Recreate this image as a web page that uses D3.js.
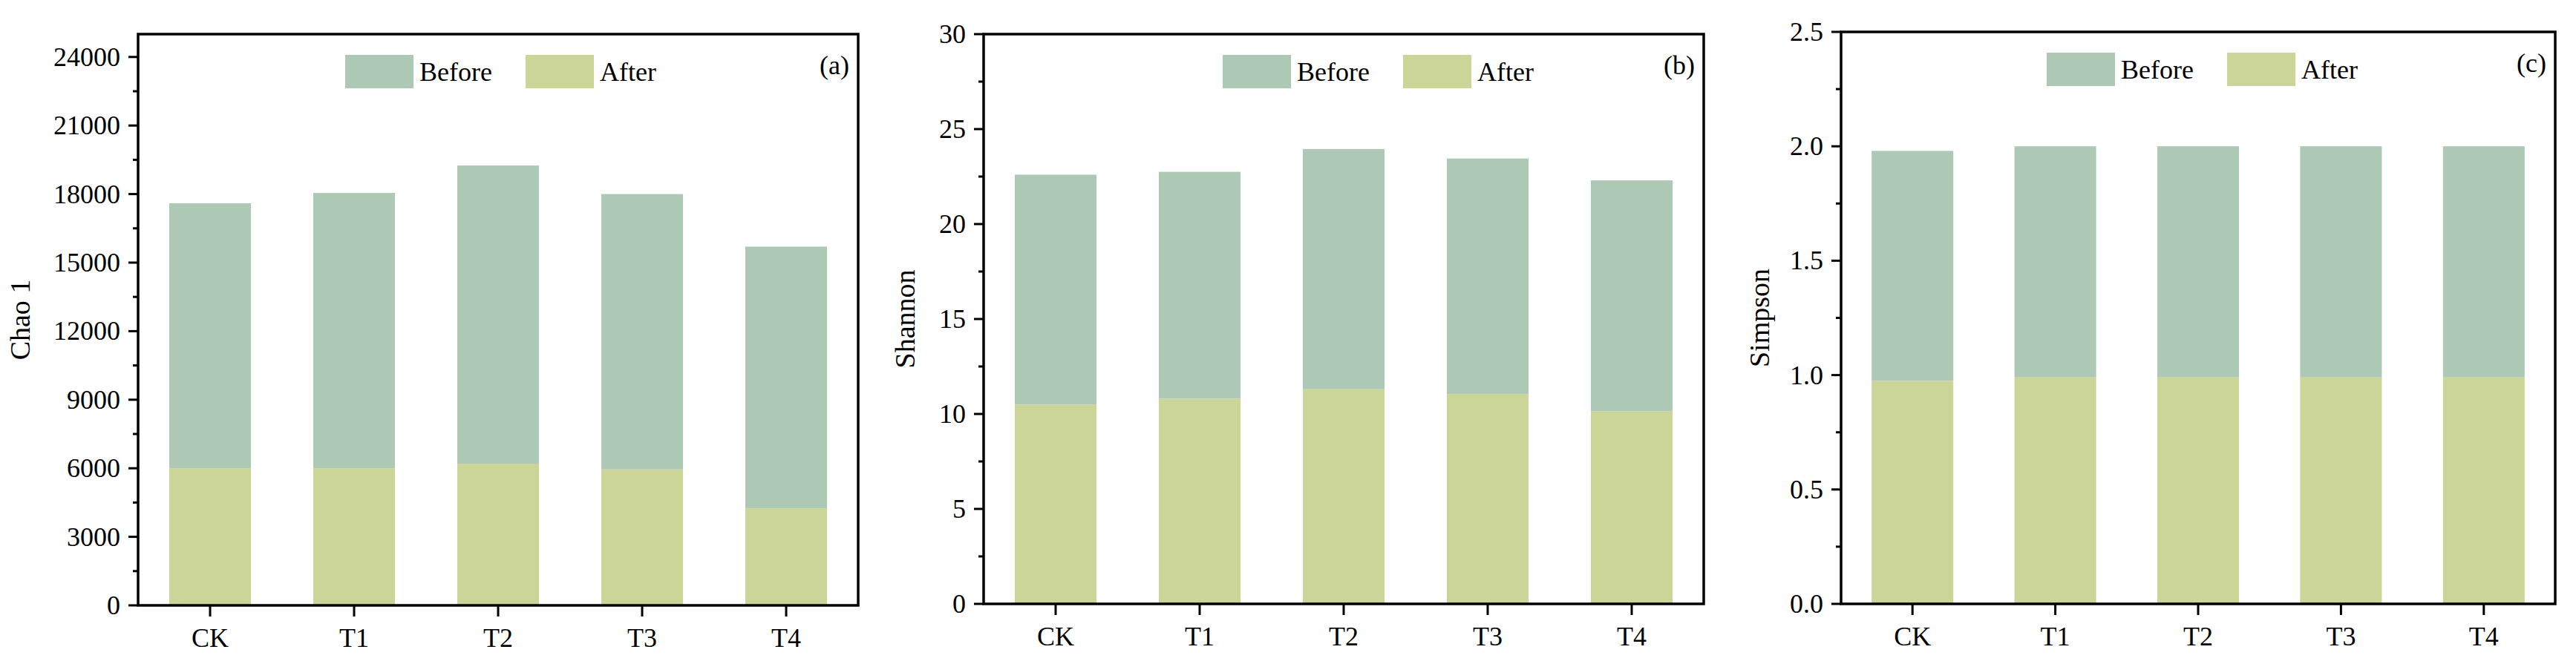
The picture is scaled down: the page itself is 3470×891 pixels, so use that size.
<!DOCTYPE html>
<html lang="en">
<head>
<meta charset="utf-8" />
<title>alpha diversity</title>
<style>
  body { margin: 0; background: #fff; }
  text { font-family: "Liberation Serif", "DejaVu Serif", serif; fill: #000; }
</style>
</head>
<body>
<script src="https://cdn.jsdelivr.net/npm/d3@7"></script>
<div id="chart"></div>
<script>
    // groups on the x axis
    const groups = ["CK", "T1", "T2", "T3", "T4"];

    // chao 1
    const chaoAfter  = [6000, 6000, 6200, 5950, 4250];
    const chaoBefore = [11600, 12050, 13050, 12050, 11450];
    const chaoTicks  = [0, 3000, 6000, 9000, 12000, 15000, 18000, 21000, 24000];

    // shannon
    const shannonAfter  = [10.5, 10.8, 11.3, 11.05, 10.15];
    const shannonBefore = [12.1, 11.95, 12.65, 12.4, 12.15];
    const shannonTicks  = [0, 5, 10, 15, 20, 25, 30];

    // simpson
    const simpsonAfter  = [0.975, 0.99, 0.99, 0.99, 0.99];
    const simpsonBefore = [1.005, 1.01, 1.01, 1.01, 1.01];
    const simpsonTicks  = [0, 0.5, 1.0, 1.5, 2.0, 2.5];

    const colBefore = "#aec8b6", colAfter = "#cbd597";

    const svg = d3.select("#chart").append("svg")
        .attr("width", 3470).attr("height", 891);

    const panels = [
        {left: 186, right: 1156, top: 46, bottom: 816, max: 25000, ticks: chaoTicks, fmt: d => d,
         after: chaoAfter, before: chaoBefore, label: "Chao 1", tag: "(a)", labelX: 40, lx: 279},
        {left: 1325, right: 2295, top: 46, bottom: 814, max: 30, ticks: shannonTicks, fmt: d => d,
         after: shannonAfter, before: shannonBefore, label: "Shannon", tag: "(b)", labelX: 1232, lx: 322},
        {left: 2480, right: 3442, top: 43, bottom: 814, max: 2.5, ticks: simpsonTicks, fmt: d3.format(".1f"),
         after: simpsonAfter, before: simpsonBefore, label: "Simpson", tag: "(c)", labelX: 2383, lx: 277}
    ];

    panels.forEach(p => {
        const g = svg.append("g");
        const left = p.left, right = p.right, top = p.top, bottom = p.bottom;

        const x = d3.scalePoint().domain(groups).range([left, right]).padding(0.5);
        const y = d3.scaleLinear().domain([0, p.max]).range([bottom, top]);
        const bw = 110;

        // bars: after at the bottom, before stacked on it
        g.selectAll(".after").data(groups).join("rect")
            .attr("x", d => x(d) - bw / 2).attr("width", bw)
            .attr("y", (d, i) => y(p.after[i]))
            .attr("height", (d, i) => y(0) - y(p.after[i]))
            .attr("fill", colAfter);
        g.selectAll(".before").data(groups).join("rect")
            .attr("x", d => x(d) - bw / 2).attr("width", bw)
            .attr("y", (d, i) => y(p.after[i] + p.before[i]))
            .attr("height", (d, i) => y(p.after[i]) - y(p.after[i] + p.before[i]))
            .attr("fill", colBefore);

        // frame
        g.append("rect").attr("x", left).attr("y", top)
            .attr("width", right - left).attr("height", bottom - top)
            .attr("fill", "none").attr("stroke", "#000").attr("stroke-width", 3.5);

        // y ticks, major and minor
        const step = p.ticks[1] - p.ticks[0];
        const minor = p.ticks.map(t => t + step / 2).filter(t => t < p.max);
        g.selectAll(".ymaj").data(p.ticks).join("line")
            .attr("x1", left - 13).attr("x2", left)
            .attr("y1", d => y(d)).attr("y2", d => y(d))
            .attr("stroke", "#000").attr("stroke-width", 3);
        g.selectAll(".ymin").data(minor).join("line")
            .attr("x1", left - 7).attr("x2", left)
            .attr("y1", d => y(d)).attr("y2", d => y(d))
            .attr("stroke", "#000").attr("stroke-width", 3);
        g.selectAll(".yl").data(p.ticks).join("text")
            .attr("x", left - 24).attr("y", d => y(d) + 12)
            .attr("text-anchor", "end").style("font-size", "36px")
            .text(p.fmt);

        // x ticks
        g.selectAll(".xt").data(groups).join("line")
            .attr("x1", d => x(d)).attr("x2", d => x(d))
            .attr("y1", bottom).attr("y2", bottom + 15)
            .attr("stroke", "#000").attr("stroke-width", 3);
        g.selectAll(".xl").data(groups).join("text")
            .attr("x", d => x(d)).attr("y", bottom + 56)
            .attr("text-anchor", "middle").style("font-size", "36px")
            .text(d => d);

        // axis title
        g.append("text")
            .attr("transform", `translate(${p.labelX},${(top + bottom) / 2}) rotate(-90)`)
            .attr("text-anchor", "middle").style("font-size", "38px")
            .text(p.label);

        // legend
        const lx = left + p.lx, ly = top + 28;
        g.append("rect").attr("x", lx).attr("y", ly).attr("width", 92).attr("height", 45).attr("fill", colBefore);
        g.append("text").attr("x", lx + 100).attr("y", ly + 35).style("font-size", "36px").text("Before");
        g.append("rect").attr("x", lx + 243).attr("y", ly).attr("width", 92).attr("height", 45).attr("fill", colAfter);
        g.append("text").attr("x", lx + 343).attr("y", ly + 35).style("font-size", "36px").text("After");

        // panel tag
        g.append("text").attr("x", right - 12).attr("y", top + 54)
            .attr("text-anchor", "end").style("font-size", "36px").text(p.tag);
    });
</script>
</body>
</html>
